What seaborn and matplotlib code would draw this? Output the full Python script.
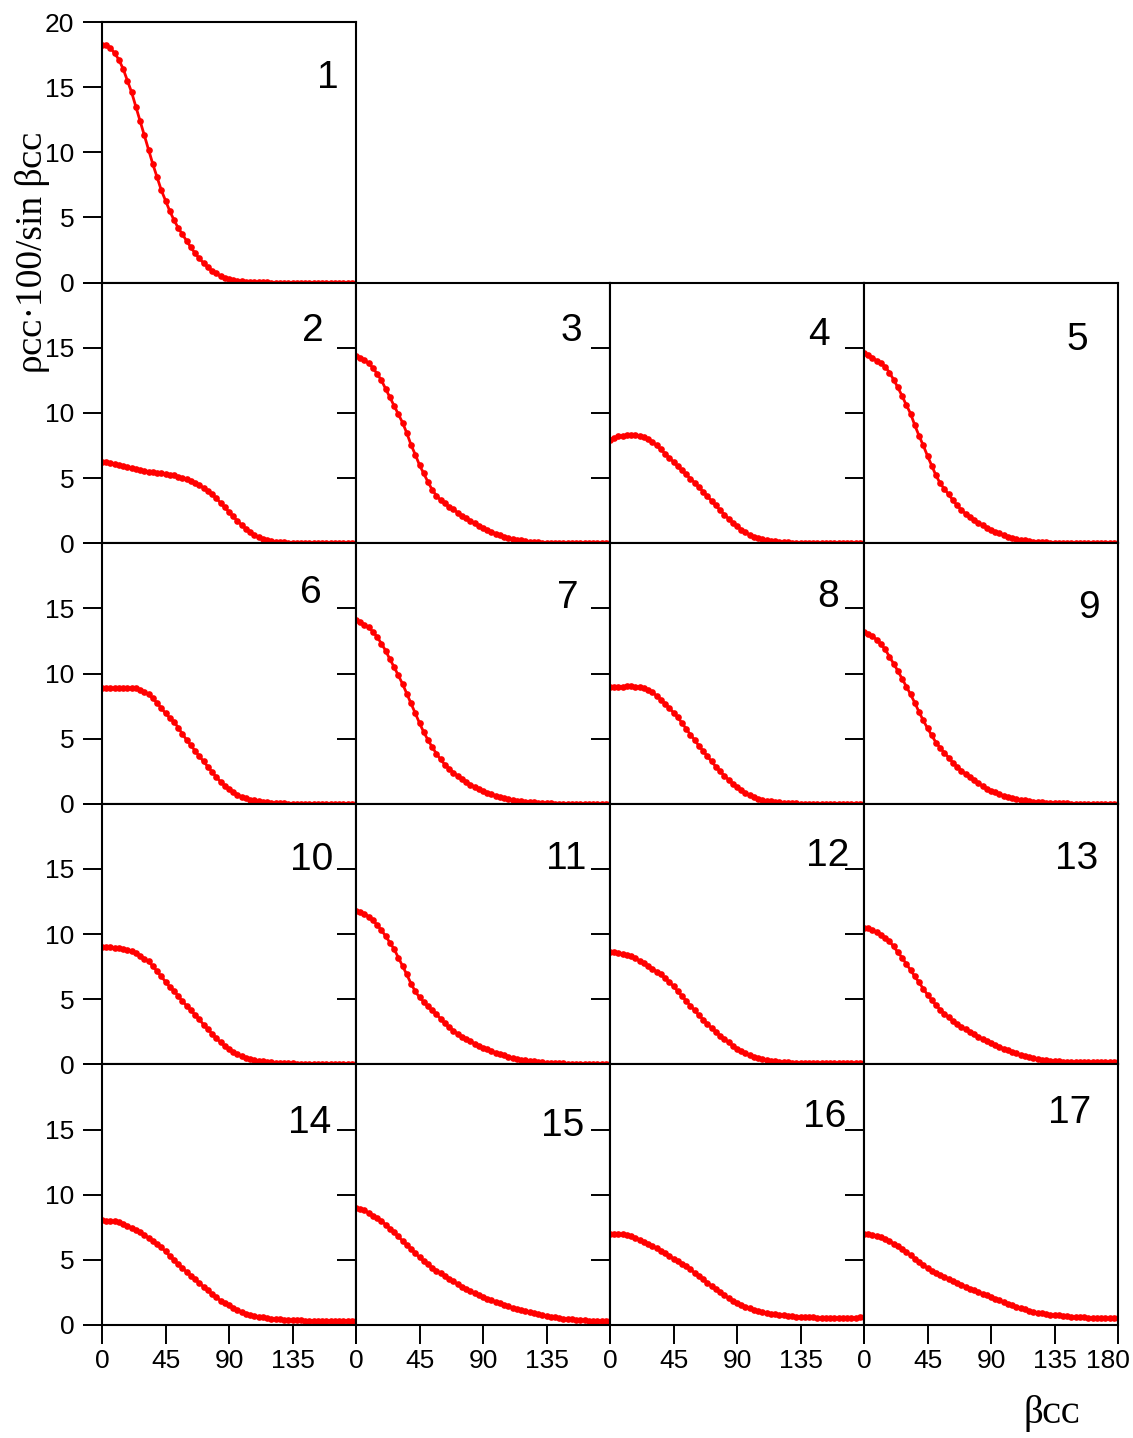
import seaborn as sns
import matplotlib
matplotlib.use('Agg')
import matplotlib.pyplot as plt
from matplotlib.transforms import ScaledTranslation

#region Data

# beta_cc angle grid, degrees
beta = list(range(0, 181, 3))

panel_01 = [18.2, 18.2, 18.0, 17.6, 17.1, 16.4, 15.5, 14.6, 13.5, 12.4,
            11.3, 10.2, 9.1, 8.1, 7.1, 6.3, 5.5, 4.8, 4.2, 3.7,
            3.2, 2.7, 2.25, 1.85, 1.5, 1.2, 0.9, 0.7, 0.5, 0.36,
            0.26, 0.19, 0.13, 0.09, 0.06, 0.04, 0.03, 0.02, 0.01, 0.01,
            0, 0, 0, 0, 0, 0, 0, 0, 0, 0,
            0, 0, 0, 0, 0, 0, 0, 0, 0, 0,
            0]
panel_02 = [6.2, 6.2, 6.15, 6.1, 6.0, 5.95, 5.85, 5.75, 5.7, 5.6,
            5.55, 5.5, 5.45, 5.4, 5.35, 5.3, 5.25, 5.2, 5.1, 5.0,
            4.9, 4.8, 4.65, 4.45, 4.25, 4.0, 3.75, 3.45, 3.1, 2.75,
            2.4, 2.05, 1.7, 1.4, 1.1, 0.85, 0.62, 0.45, 0.33, 0.24,
            0.17, 0.12, 0.08, 0.06, 0.04, 0.03, 0.02, 0.01, 0, 0,
            0, 0, 0, 0, 0, 0, 0, 0, 0, 0,
            0]
panel_03 = [14.4, 14.25, 14.05, 13.8, 13.45, 13.0, 12.5, 11.85, 11.2, 10.55,
            9.9, 9.25, 8.45, 7.55, 6.8, 6.0, 5.35, 4.7, 4.1, 3.65,
            3.3, 3.05, 2.8, 2.6, 2.35, 2.1, 1.9, 1.72, 1.52, 1.33,
            1.15, 1.0, 0.88, 0.74, 0.6, 0.5, 0.41, 0.33, 0.27, 0.21,
            0.16, 0.12, 0.09, 0.07, 0.05, 0.04, 0.03, 0.02, 0.01, 0,
            0, 0, 0, 0, 0, 0, 0, 0, 0, 0,
            0]
panel_04 = [7.95, 8.1, 8.2, 8.25, 8.3, 8.3, 8.28, 8.22, 8.12, 7.98,
            7.78, 7.5, 7.2, 6.88, 6.55, 6.25, 5.9, 5.6, 5.28, 4.95,
            4.65, 4.3, 3.95, 3.6, 3.25, 2.9, 2.55, 2.2, 1.88, 1.58,
            1.3, 1.05, 0.84, 0.64, 0.5, 0.38, 0.3, 0.24, 0.19, 0.15,
            0.11, 0.08, 0.06, 0.04, 0.03, 0.02, 0.01, 0, 0, 0,
            0, 0, 0, 0, 0, 0, 0, 0, 0, 0,
            0]
panel_05 = [14.6, 14.45, 14.25, 14.0, 13.8, 13.55, 13.1, 12.55, 11.95, 11.3,
            10.6, 9.95, 9.05, 8.25, 7.5, 6.7, 5.95, 5.2, 4.6, 4.15,
            3.75, 3.3, 2.9, 2.55, 2.27, 2.0, 1.78, 1.58, 1.38, 1.18,
            1.02, 0.88, 0.75, 0.6, 0.48, 0.4, 0.32, 0.26, 0.21, 0.17,
            0.13, 0.1, 0.08, 0.06, 0.05, 0.04, 0.03, 0.02, 0.01, 0,
            0, 0, 0, 0, 0, 0, 0, 0, 0, 0,
            0]
panel_06 = [8.85, 8.85, 8.85, 8.85, 8.9, 8.9, 8.9, 8.9, 8.85, 8.75,
            8.6, 8.4, 8.1, 7.75, 7.35, 6.95, 6.6, 6.3, 5.85, 5.35,
            4.9, 4.5, 4.05, 3.65, 3.25, 2.85, 2.45, 2.05, 1.7, 1.4,
            1.12, 0.9, 0.7, 0.54, 0.42, 0.33, 0.26, 0.2, 0.15, 0.12,
            0.09, 0.06, 0.04, 0.03, 0.02, 0.01, 0, 0, 0, 0,
            0, 0, 0, 0, 0, 0, 0, 0, 0, 0,
            0]
panel_07 = [14.1, 13.95, 13.75, 13.55, 13.2, 12.8, 12.3, 11.75, 11.1, 10.5,
            9.85, 9.2, 8.45, 7.7, 6.95, 6.2, 5.5, 4.9, 4.35, 3.85,
            3.4, 3.0, 2.7, 2.4, 2.15, 1.9, 1.68, 1.48, 1.3, 1.14,
            1.0, 0.86, 0.74, 0.63, 0.53, 0.45, 0.38, 0.31, 0.25, 0.2,
            0.16, 0.13, 0.1, 0.08, 0.06, 0.04, 0.03, 0.02, 0.01, 0,
            0, 0, 0, 0, 0, 0, 0, 0, 0, 0,
            0]
panel_08 = [8.95, 9.0, 9.0, 9.0, 9.05, 9.05, 9.0, 8.95, 8.88, 8.75,
            8.55, 8.3, 8.0, 7.68, 7.35, 7.0, 6.65, 6.2, 5.75, 5.3,
            4.9, 4.45, 4.05, 3.65, 3.25, 2.85, 2.5, 2.15, 1.85, 1.55,
            1.3, 1.05, 0.84, 0.64, 0.5, 0.4, 0.31, 0.24, 0.18, 0.14,
            0.11, 0.08, 0.06, 0.04, 0.03, 0.02, 0.01, 0, 0, 0,
            0, 0, 0, 0, 0, 0, 0, 0, 0, 0,
            0]
panel_09 = [13.2, 13.05, 12.85, 12.6, 12.25, 11.85, 11.3, 10.75, 10.2, 9.6,
            9.0, 8.4, 7.75, 7.05, 6.4, 5.8, 5.25, 4.7, 4.3, 3.9,
            3.55, 3.15, 2.85, 2.55, 2.3, 2.05, 1.8, 1.58, 1.36, 1.16,
            1.0, 0.87, 0.74, 0.62, 0.52, 0.44, 0.37, 0.31, 0.26, 0.21,
            0.17, 0.14, 0.11, 0.09, 0.07, 0.06, 0.05, 0.04, 0.03, 0.02,
            0.01, 0, 0, 0, 0, 0, 0, 0, 0, 0,
            0]
panel_10 = [9.0, 9.0, 8.98, 8.95, 8.92, 8.88, 8.8, 8.68, 8.52, 8.33,
            8.12, 7.9, 7.55, 7.15, 6.75, 6.35, 5.95, 5.65, 5.25, 4.85,
            4.5, 4.15, 3.8, 3.45, 3.05, 2.7, 2.35, 2.0, 1.7, 1.42,
            1.17, 0.95, 0.76, 0.62, 0.5, 0.41, 0.34, 0.28, 0.23, 0.19,
            0.16, 0.13, 0.11, 0.09, 0.08, 0.07, 0.06, 0.06, 0.06, 0.06,
            0.06, 0.06, 0.05, 0.05, 0.05, 0.05, 0.05, 0.05, 0.05, 0.05,
            0.05]
panel_11 = [11.75, 11.7, 11.55, 11.35, 11.05, 10.7, 10.3, 9.85, 9.35, 8.85,
            8.2, 7.55, 6.9, 6.2, 5.6, 5.15, 4.8, 4.45, 4.15, 3.85,
            3.5, 3.15, 2.85, 2.6, 2.35, 2.12, 1.95, 1.78, 1.6, 1.42,
            1.28, 1.15, 1.02, 0.9, 0.8, 0.7, 0.6, 0.5, 0.43, 0.37,
            0.32, 0.27, 0.23, 0.19, 0.16, 0.13, 0.11, 0.09, 0.08, 0.07,
            0.06, 0.05, 0.05, 0.05, 0.05, 0.05, 0.05, 0.05, 0.05, 0.05,
            0.05]
panel_12 = [8.6, 8.6, 8.55, 8.5, 8.42, 8.3, 8.15, 7.95, 7.75, 7.55,
            7.35, 7.12, 6.9, 6.62, 6.32, 6.0, 5.62, 5.25, 4.87, 4.5,
            4.15, 3.78, 3.44, 3.1, 2.8, 2.5, 2.2, 1.95, 1.7, 1.44,
            1.2, 1.02, 0.85, 0.69, 0.58, 0.48, 0.4, 0.33, 0.28, 0.24,
            0.21, 0.18, 0.16, 0.14, 0.13, 0.12, 0.11, 0.1, 0.1, 0.1,
            0.1, 0.1, 0.09, 0.09, 0.09, 0.09, 0.09, 0.08, 0.08, 0.08,
            0.08]
panel_13 = [10.5, 10.45, 10.3, 10.15, 9.95, 9.7, 9.45, 9.05, 8.6, 8.2,
            7.7, 7.25, 6.75, 6.3, 5.8, 5.35, 4.95, 4.55, 4.2, 3.9,
            3.6, 3.32, 3.1, 2.88, 2.68, 2.48, 2.3, 2.13, 1.96, 1.8,
            1.64, 1.5, 1.36, 1.22, 1.08, 0.96, 0.84, 0.73, 0.63, 0.55,
            0.48, 0.42, 0.37, 0.33, 0.29, 0.26, 0.24, 0.22, 0.21, 0.2,
            0.19, 0.18, 0.18, 0.18, 0.18, 0.18, 0.18, 0.18, 0.18, 0.18,
            0.18]
panel_14 = [8.05, 8.0, 7.98, 7.95, 7.88, 7.78, 7.62, 7.46, 7.3, 7.1,
            6.9, 6.7, 6.45, 6.2, 5.95, 5.65, 5.3, 4.98, 4.67, 4.37,
            4.07, 3.78, 3.5, 3.22, 2.93, 2.65, 2.38, 2.12, 1.88, 1.68,
            1.5, 1.32, 1.15, 1.0, 0.88, 0.79, 0.71, 0.64, 0.58, 0.53,
            0.49, 0.46, 0.43, 0.41, 0.39, 0.37, 0.36, 0.35, 0.34, 0.34,
            0.33, 0.33, 0.33, 0.33, 0.33, 0.33, 0.33, 0.34, 0.34, 0.34,
            0.34]
panel_15 = [8.95, 8.9, 8.8, 8.6, 8.4, 8.2, 8.0, 7.7, 7.4, 7.1,
            6.8, 6.45, 6.15, 5.85, 5.5, 5.2, 4.9, 4.65, 4.4, 4.18,
            3.97, 3.77, 3.55, 3.35, 3.14, 2.93, 2.76, 2.6, 2.44, 2.29,
            2.17, 2.02, 1.9, 1.78, 1.66, 1.55, 1.45, 1.33, 1.22, 1.13,
            1.05, 0.96, 0.89, 0.82, 0.75, 0.69, 0.63, 0.58, 0.53, 0.49,
            0.46, 0.43, 0.4, 0.38, 0.36, 0.34, 0.33, 0.32, 0.31, 0.3,
            0.3]
panel_16 = [7.0, 7.0, 6.98, 6.95, 6.88, 6.8, 6.7, 6.55, 6.4, 6.25,
            6.08, 5.9, 5.7, 5.5, 5.3, 5.1, 4.9, 4.7, 4.5, 4.27,
            4.0, 3.75, 3.5, 3.25, 3.0, 2.75, 2.5, 2.28, 2.07, 1.88,
            1.7, 1.55, 1.4, 1.27, 1.17, 1.08, 1.0, 0.93, 0.87, 0.82,
            0.77, 0.73, 0.7, 0.67, 0.64, 0.62, 0.6, 0.59, 0.58, 0.57,
            0.56, 0.56, 0.56, 0.56, 0.56, 0.56, 0.57, 0.57, 0.57, 0.58,
            0.58]
panel_17 = [7.0, 6.97, 6.92, 6.85, 6.75, 6.6, 6.45, 6.25, 6.05, 5.85,
            5.6, 5.35, 5.1, 4.85, 4.6, 4.35, 4.15, 4.0, 3.85, 3.7,
            3.55, 3.4, 3.25, 3.1, 2.95, 2.8, 2.67, 2.54, 2.41, 2.28,
            2.15, 2.02, 1.9, 1.77, 1.65, 1.52, 1.4, 1.3, 1.2, 1.1,
            1.02, 0.95, 0.89, 0.84, 0.8, 0.77, 0.74, 0.71, 0.68, 0.65,
            0.62, 0.6, 0.58, 0.57, 0.56, 0.55, 0.54, 0.53, 0.52, 0.52,
            0.51]

curves = [panel_01, panel_02, panel_03, panel_04, panel_05, panel_06,
          panel_07, panel_08, panel_09, panel_10, panel_11, panel_12,
          panel_13, panel_14, panel_15, panel_16, panel_17]
panel_names = [str(i) for i in range(1, 18)]

x_ticks = [0, 45, 90, 135, 180]
y_ticks = [0, 5, 10, 15, 20]

#endregion

#region Layout

# (row, col) of each panel: panel 1 alone on top, then 4 per row
cells = [(0, 0)] + [(1 + k // 4, k % 4) for k in range(16)]

# position of the panel number inside each box, axes fraction
name_pos = [(0.89, 0.784),
            (0.829, 0.813), (0.846, 0.813), (0.822, 0.80), (0.839, 0.78),
            (0.824, 0.808), (0.835, 0.79), (0.858, 0.795), (0.886, 0.752),
            (0.824, 0.784), (0.827, 0.79), (0.858, 0.80), (0.839, 0.788),
            (0.816, 0.774), (0.815, 0.763), (0.846, 0.797), (0.81, 0.813)]

#endregion

sns.set_style('ticks')
plt.rcParams['font.family'] = ['Liberation Sans', 'DejaVu Sans']
plt.rcParams['text.color'] = 'black'
plt.rcParams['axes.linewidth'] = 1.5

W, H = 1133, 1438
fig, axes = plt.subplots(5, 4, figsize = (W / 100, H / 100), dpi = 100,
  gridspec_kw = dict(left = 102 / W, right = 1118 / W, top = 1 - 22 / H,
                     bottom = 1 - 1325 / H, hspace = 0, wspace = 0))

for c in range(1, 4):
  axes[0, c].remove()

for k, (r, c) in enumerate(cells):
  ax = axes[r, c]
  sns.lineplot(x = beta, y = curves[k], ax = ax, color = '#ff0000',
               linewidth = 2.0, marker = 'o', markersize = 4.8,
               markeredgewidth = 0)
  ax.set_xlim(0, 180)
  ax.set_ylim(0, 20)
  ax.set_xticks(x_ticks)
  ax.set_yticks(y_ticks)
  ax.tick_params(direction = 'out', length = 14, width = 1.4,
                 labelsize = 19, colors = 'black')
  ax.tick_params(axis = 'x', pad = 3)
  ax.tick_params(axis = 'y', pad = 6)
  for s in ax.spines.values():
    s.set_visible(True)
    s.set_linewidth(1.5)
    s.set_color('black')

  # x labels only on bottom row, 180 only on last column
  if r == 4:
    ax.set_xticklabels([str(t) if (t < 180 or c == 3) else '' for t in x_ticks])
    if c == 3:
      # pull the last label in so it stays inside the figure
      lab = ax.get_xticklabels()[-1]
      lab.set_transform(lab.get_transform() + ScaledTranslation(-10 / 100, 0, fig.dpi_scale_trans))
  else:
    ax.set_xticklabels([])

  # y labels only in first column, 20 only on top panel
  if c == 0:
    ax.set_yticklabels([str(t) if (t < 20 or r == 0) else '' for t in y_ticks])
  else:
    ax.set_yticklabels([])

  ax.set_xlabel('')
  ax.set_ylabel('')
  px, py = name_pos[k]
  ax.text(px, py, panel_names[k], transform = ax.transAxes, fontsize = 28,
          ha = 'center', va = 'center', color = 'black')

serif = ['Liberation Serif', 'DejaVu Serif']
fig.text(33 / W, 1 - 252 / H, 'ρᴄᴄ·100/sin βᴄᴄ', rotation = 90, fontsize = 27,
         family = serif, ha = 'center', va = 'center', color = 'black')
fig.text(1052 / W, 1 - 1414 / H, 'βᴄᴄ', fontsize = 28, family = serif,
         ha = 'center', va = 'center', color = 'black')

fig.savefig('out.png', dpi = 100)
